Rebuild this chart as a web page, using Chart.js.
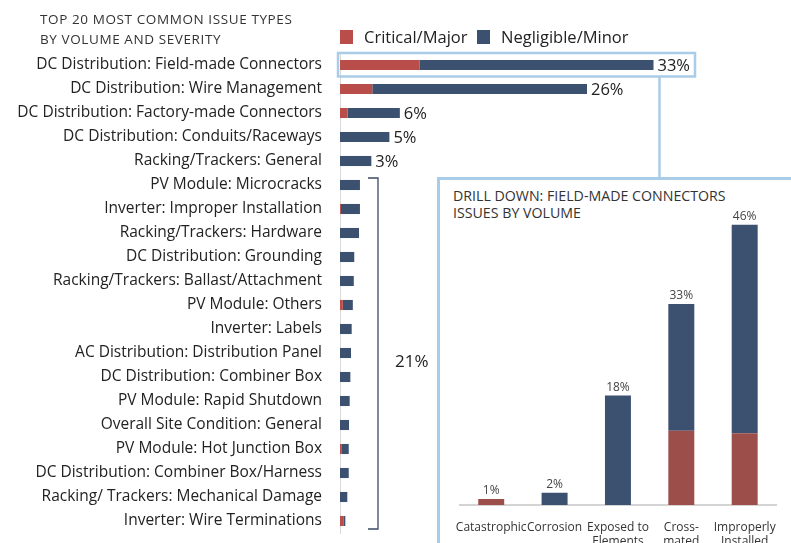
<!DOCTYPE html>
<html>
<head>
<meta charset="utf-8">
<script src="https://cdn.jsdelivr.net/npm/chart.js@4"></script>
<style>
  body { margin: 0; width: 791px; height: 543px; overflow: hidden; background: #fff; position: relative; font-family: 'Open Sans', sans-serif; }
  #mainChart { position: absolute; left: 0; top: 0; }
  .title { position: absolute; left: 40px; top: 9px; font-size: 13.5px; letter-spacing: 0.6px; line-height: 20px; color: #333; }
  .legend { position: absolute; top: 25px; font-size: 16.5px; color: #222; display: flex; align-items: center; }
  .legend span.box { display: inline-block; width: 13px; height: 14px; margin-right: 11px; }
  .group-label { position: absolute; left: 395px; top: 349px; font-size: 17px; color: #222; }
  #inset { position: absolute; left: 437px; top: 177px; width: 400px; height: 400px; border: 3px solid #a9cde8; background: #fff; }
  #inset .title { left: 13px; top: 7px; font-size: 14.2px; letter-spacing: 0; line-height: 17px; }
  #drillChart { position: absolute; left: 0; top: 0; }
</style>
</head>
<body>
<canvas id="mainChart" width="791" height="543"></canvas>
<div class="title">TOP 20 MOST COMMON ISSUE TYPES<br>BY VOLUME AND SEVERITY</div>
<div class="legend" style="left:340px"><span class="box" style="background:#b84d4a"></span>Critical/Major</div>
<div class="legend" style="left:477px"><span class="box" style="background:#3c5070"></span>Negligible/Minor</div>
<div class="group-label">21%</div>
<div id="inset">
  <div class="title">DRILL DOWN: FIELD-MADE CONNECTORS<br>ISSUES BY VOLUME</div>
  <canvas id="drillChart" width="351" height="363"></canvas>
</div>
<script>
const categories = [
    'DC Distribution: Field-made Connectors',
    'DC Distribution: Wire Management',
    'DC Distribution: Factory-made Connectors',
    'DC Distribution: Conduits/Raceways',
    'Racking/Trackers: General',
    'PV Module: Microcracks',
    'Inverter: Improper Installation',
    'Racking/Trackers: Hardware',
    'DC Distribution: Grounding',
    'Racking/Trackers: Ballast/Attachment',
    'PV Module: Others',
    'Inverter: Labels',
    'AC Distribution: Distribution Panel',
    'DC Distribution: Combiner Box',
    'PV Module: Rapid Shutdown',
    'Overall Site Condition: General',
    'PV Module: Hot Junction Box',
    'DC Distribution: Combiner Box/Harness',
    'Racking/ Trackers: Mechanical Damage',
    'Inverter: Wire Terminations'
];
const criticalMajor = [8.4, 3.4, 0.8, 0, 0, 0, 0.1, 0, 0, 0, 0.3, 0, 0, 0, 0, 0, 0.2, 0, 0, 0.35];
const negligibleMinor = [24.6, 22.6, 5.5, 5.2, 3.3, 2.1, 2.0, 2.0, 1.5, 1.45, 1.05, 1.23, 1.16, 1.09, 1.02, 0.95, 0.72, 0.92, 0.77, 0.21];
const valueLabels = ['33%', '26%', '6%', '5%', '3%'];

const drillCategories = [['Catastrophic'], ['Corrosion'], ['Exposed to', 'Elements'], ['Cross-', 'mated'], ['Improperly', 'Installed']];
const drillCritical = [1, 0, 0, 12.2, 11.8];
const drillMinor = [0, 2, 18, 20.8, 34.2];
const drillLabels = ['1%', '2%', '18%', '33%', '46%'];

const red = '#b84d4a';
const blue = '#3c5070';
const highlight = '#a9cde8';
const insetTop = 177;

Chart.defaults.font.family = "'Open Sans', sans-serif";

// labels, highlight box, connector and bracket for the main chart
const mainDecor = {
    id: 'mainDecor',
    afterDatasetsDraw(chart) {
        const ctx = chart.ctx;
        const xs = chart.scales.x;
        const ys = chart.scales.y;
        ctx.save();
        ctx.font = '16.5px "Open Sans", sans-serif';
        ctx.fillStyle = '#222';
        ctx.textBaseline = 'middle';
        let boxRight = 0;
        valueLabels.forEach((txt, i) => {
            const x = xs.getPixelForValue(criticalMajor[i] + negligibleMinor[i]) + 4;
            const y = ys.getPixelForValue(i);
            ctx.fillText(txt, x, y + 1);
            if (i === 0) boxRight = x + ctx.measureText(txt).width + 5;
        });

        const y0 = ys.getPixelForValue(0);
        const left = chart.chartArea.left - 2;
        ctx.strokeStyle = highlight;
        ctx.lineWidth = 2.5;
        ctx.strokeRect(left, y0 - 12, boxRight - left, 23.5);
        const cx = xs.getPixelForValue(criticalMajor[0] + negligibleMinor[0]) + 6;
        ctx.beginPath();
        ctx.moveTo(cx, y0 + 11.5);
        ctx.lineTo(cx, insetTop);
        ctx.stroke();

        // bracket over the remaining 15 types
        const top = ys.getPixelForValue(5) - 7;
        const bottom = ys.getPixelForValue(19) + 8;
        const bx = chart.chartArea.left + 38;
        ctx.strokeStyle = '#3c4a66';
        ctx.lineWidth = 1.3;
        ctx.beginPath();
        ctx.moveTo(bx - 10, top);
        ctx.lineTo(bx, top);
        ctx.lineTo(bx, bottom);
        ctx.lineTo(bx - 10, bottom);
        ctx.stroke();
        ctx.restore();
    }
};

new Chart(document.getElementById('mainChart'), {
    type: 'bar',
    data: {
        labels: categories,
        datasets: [
            { label: 'Critical/Major', data: criticalMajor, backgroundColor: red },
            { label: 'Negligible/Minor', data: negligibleMinor, backgroundColor: blue }
        ]
    },
    options: {
        indexAxis: 'y',
        responsive: false,
        animation: false,
        devicePixelRatio: 1,
        categoryPercentage: 1,
        barPercentage: 0.42,
        layout: { padding: { left: 0, right: 14, top: 53, bottom: 10 } },
        plugins: { legend: { display: false }, tooltip: { enabled: false } },
        scales: {
            x: { stacked: true, display: false, min: 0, max: 46 },
            y: {
                stacked: true,
                grid: { display: false, drawTicks: false },
                border: { display: true, color: '#d9d9d9', width: 1 },
                ticks: { color: '#222', font: { size: 15.5 }, padding: 18, autoSkip: false },
                afterFit(scale) {
                    scale.width = 340;
                    scale.paddingTop = 0;
                    scale.paddingBottom = 0;
                }
            }
        }
    },
    plugins: [mainDecor]
});

const drillDecor = {
    id: 'drillDecor',
    afterDatasetsDraw(chart) {
        const ctx = chart.ctx;
        const xs = chart.scales.x;
        const ys = chart.scales.y;
        ctx.save();
        ctx.font = '12px "Open Sans", sans-serif';
        ctx.fillStyle = '#444';
        ctx.textAlign = 'center';
        ctx.textBaseline = 'bottom';
        drillLabels.forEach((txt, i) => {
            const y = ys.getPixelForValue(drillCritical[i] + drillMinor[i]);
            ctx.fillText(txt, xs.getPixelForValue(i), y - 2);
        });
        ctx.restore();
    }
};

new Chart(document.getElementById('drillChart'), {
    type: 'bar',
    data: {
        labels: drillCategories,
        datasets: [
            { label: 'Critical/Major', data: drillCritical, backgroundColor: '#9c4e4b' },
            { label: 'Negligible/Minor', data: drillMinor, backgroundColor: blue }
        ]
    },
    options: {
        responsive: false,
        animation: false,
        devicePixelRatio: 1,
        categoryPercentage: 1,
        barPercentage: 0.41,
        layout: { padding: { left: 15, right: 8, top: 20.5, bottom: 0 } },
        plugins: { legend: { display: false }, tooltip: { enabled: false } },
        scales: {
            x: {
                stacked: true,
                grid: { display: false, drawTicks: false },
                border: { display: true, color: '#d4d4d4', width: 2 },
                ticks: { color: '#333', font: { size: 12 }, padding: 15, maxRotation: 0, autoSkip: false },
                afterFit(scale) { scale.height = 38; }
            },
            y: { stacked: true, display: false, min: 0, max: 50 }
        }
    },
    plugins: [drillDecor]
});
</script>
</body>
</html>
